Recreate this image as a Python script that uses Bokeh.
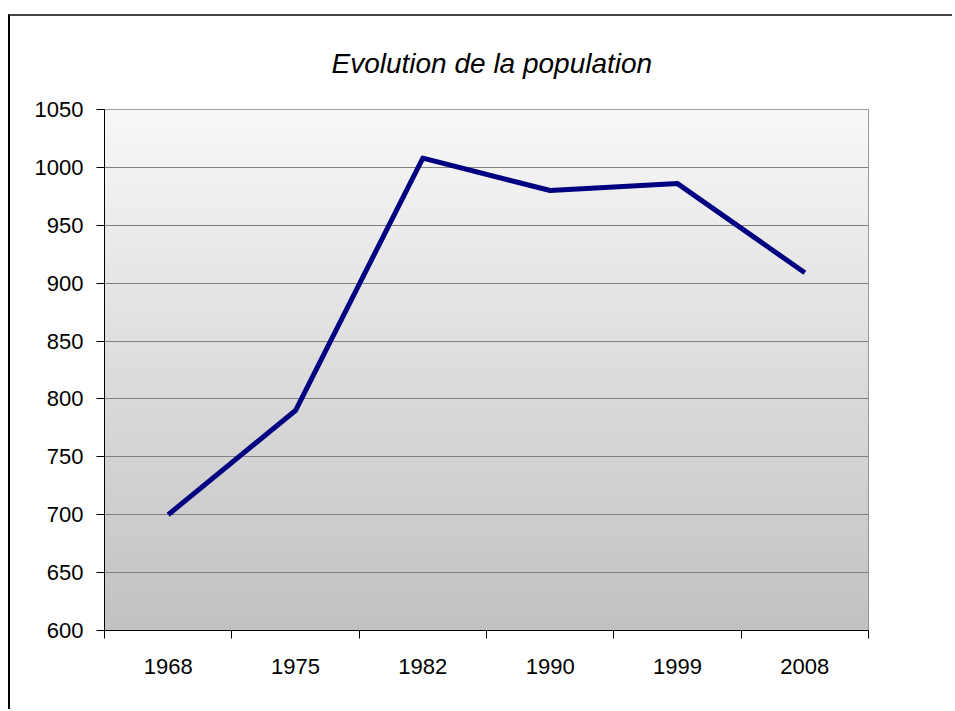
import numpy as np
from bokeh.plotting import figure
from bokeh.models import Range1d, FixedTicker
from bokeh.embed import file_html
from bokeh.resources import INLINE

# ---- data ----
years = ["1968", "1975", "1982", "1990", "1999", "2008"]
population = [700, 790, 1008, 980, 986, 909]
y_ticks = [600, 650, 700, 750, 800, 850, 900, 950, 1000, 1050]
title_text = "Evolution de la population"

x_pos = [i + 0.5 for i in range(len(years))]

p = figure(
    frame_width=764, frame_height=521,
    x_range=Range1d(0, len(years)), y_range=Range1d(y_ticks[0], y_ticks[-1]),
    output_backend="svg", toolbar_location=None,
    min_border_left=94, min_border_right=84, min_border_top=93, min_border_bottom=79,
    background_fill_color="white", border_fill_color="white",
)
p.styles = {"margin-top": "14px", "margin-left": "8px",
            "border-top": "2px solid #444444", "border-left": "2px solid #000000"}

# title
p.title.text = title_text
p.title.align = "left"
p.title.vertical_align = "middle"
p.title.text_font = "Liberation Sans"
p.title.text_font_style = "italic"
p.title.text_font_size = "28px"
p.title.text_color = "black"
p.title.standoff = 60
p.title.offset = 227

# gradient background of plot area
n = 256
g = np.linspace(194, 248, n)
img = np.zeros((n, 1), dtype=np.uint32)
view = img.view(dtype=np.uint8).reshape((n, 1, 4))
view[:, 0, 0] = g.astype(np.uint8)
view[:, 0, 1] = g.astype(np.uint8)
view[:, 0, 2] = g.astype(np.uint8)
view[:, 0, 3] = 255
p.image_rgba(image=[img], x=0, y=y_ticks[0], dw=len(years), dh=y_ticks[-1] - y_ticks[0], level="image")

# grid
p.xgrid.visible = False
p.ygrid.ticker = FixedTicker(ticks=y_ticks)
p.ygrid.grid_line_color = "#808080"
p.ygrid.grid_line_width = 1

p.outline_line_color = "#808080"
p.outline_line_width = 1

# y axis
ya = p.yaxis[0]
ya.ticker = FixedTicker(ticks=y_ticks)
ya.axis_line_color = "black"
ya.major_tick_line_color = "black"
ya.major_tick_out = 8
ya.major_tick_in = 0
ya.minor_tick_line_color = None
ya.major_label_standoff = 13
ya.major_label_text_font = "Liberation Sans"
ya.major_label_text_font_size = "22px"
ya.major_label_text_color = "black"

# x axis
xa = p.xaxis[0]
xa.ticker = FixedTicker(ticks=x_pos, minor_ticks=list(range(len(years) + 1)))
xa.major_label_overrides = {x: y for x, y in zip(x_pos, years)}
xa.axis_line_color = "black"
xa.major_tick_line_color = None
xa.major_tick_out = 8
xa.major_tick_in = 0
xa.minor_tick_line_color = "black"
xa.minor_tick_out = 8
xa.minor_tick_in = 0
xa.major_label_standoff = 20
xa.major_label_text_font = "Liberation Sans"
xa.major_label_text_font_size = "22px"
xa.major_label_text_color = "black"

# line
p.line(x_pos, population, line_color="#000080", line_width=5, line_join="round")

open("out.html", "w").write(file_html(p, INLINE))
